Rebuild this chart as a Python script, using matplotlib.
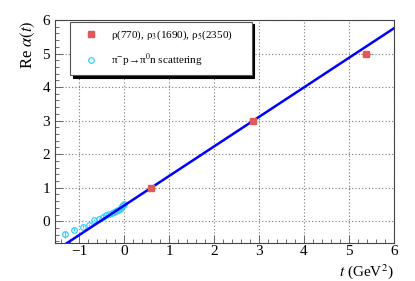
import numpy as np
import matplotlib
matplotlib.use("Agg")
import matplotlib.pyplot as plt
from matplotlib.ticker import MultipleLocator

plt.rcParams['font.family'] = ['Liberation Serif', 'DejaVu Serif']
plt.rcParams['mathtext.fontset'] = 'stix'

# --- data ---
# resonances: t = m^2, spin J
res_t = [0.59, 2.86, 5.38]
res_J = [1, 3, 5]
res_terr = [0.0, 0.0, 0.11]

# pi- p -> pi0 n scattering points
scat_t = [-1.32, -1.12, -0.92, -0.78, -0.67, -0.55, -0.47, -0.40, -0.33, -0.27,
          -0.22, -0.18, -0.14, -0.10, -0.07, -0.04, -0.02, 0.0]
scat_a = [-0.39, -0.25, -0.16, -0.10, 0.05, 0.07, 0.13, 0.18, 0.22, 0.26,
          0.29, 0.32, 0.35, 0.38, 0.41, 0.44, 0.47, 0.50]
scat_err = [0.1, 0.05, 0.04, 0.03, 0.03, 0.02, 0.02, 0.02, 0.02, 0.02,
            0.02, 0.02, 0.02, 0.02, 0.02, 0.02, 0.02, 0.02]

# linear trajectory
intercept = 0.47
slope = 0.88
fit_range = [-1.6, 6.0]

RED = '#e05a5a'
CYAN = '#33ccff'

fig = plt.figure(figsize=(4.15, 2.81), dpi=100)
ax = fig.add_axes([0.1325, 0.135, 0.8165, 0.794])

tt = np.array(fit_range)
ax.plot(tt, intercept + slope * tt, color='#0000ff', lw=1.8, zorder=3)

# error bars first, then the markers carrying the legend labels
ax.errorbar(res_t, res_J, xerr=res_terr, fmt='none', ecolor=RED,
            elinewidth=0.8, capsize=0, zorder=4)
ax.plot(res_t, res_J, 's', color=RED, ms=3.8, zorder=5, ls='none',
        label='ρ(770), ρ$_3$(1690), ρ$_5$(2350)')
ax.errorbar(scat_t, scat_a, yerr=scat_err, fmt='none', ecolor=CYAN,
            elinewidth=0.8, capsize=0, zorder=2)
ax.plot(scat_t, scat_a, 'o', mfc='none', mec=CYAN, ms=4, mew=0.9, ls='none',
        zorder=2, label='π$^{-}$p→π$^{0}$n scattering')

ax.set_xlim(-1.54, 6)
ax.set_ylim(-0.65, 6)
ax.xaxis.set_major_locator(MultipleLocator(1))
ax.xaxis.set_minor_locator(MultipleLocator(0.2))
ax.yaxis.set_major_locator(MultipleLocator(1))
ax.yaxis.set_minor_locator(MultipleLocator(0.2))
ax.tick_params(which='both', direction='in', top=False, right=False, labelsize=11)
ax.tick_params(which='major', length=6, width=0.6, color='#555555')
ax.tick_params(which='minor', length=3, width=0.6, color='#555555')
ax.tick_params(axis='x', pad=1.5)
for sp in ax.spines.values():
    sp.set_color('#444444')
    sp.set_linewidth(0.8)

ax.grid(True, which='major', ls=(0, (1, 2)), color='#777777', lw=0.8)
ax.set_axisbelow(True)

ax.set_xlabel(r'$t$ (GeV$^2$)', fontsize=11, ha='right')
ax.xaxis.set_label_coords(1.0, -0.085)
ax.set_ylabel(r'Re $\alpha(t)$', fontsize=12, loc='top', labelpad=4)

leg = ax.legend(loc='upper left', bbox_to_anchor=(0.044, 0.993, 0.536, 0.0),
                mode='expand', fontsize=8, frameon=True, fancybox=False,
                shadow={'color': 'black', 'alpha': 1.0, 'ox': 2, 'oy': -2},
                borderpad=0.6, labelspacing=0.9, handletextpad=0.5,
                handlelength=2.6, borderaxespad=0)
leg.get_frame().set_edgecolor('#555555')
leg.get_frame().set_linewidth(0.8)

fig.savefig('out.png', dpi=100)
